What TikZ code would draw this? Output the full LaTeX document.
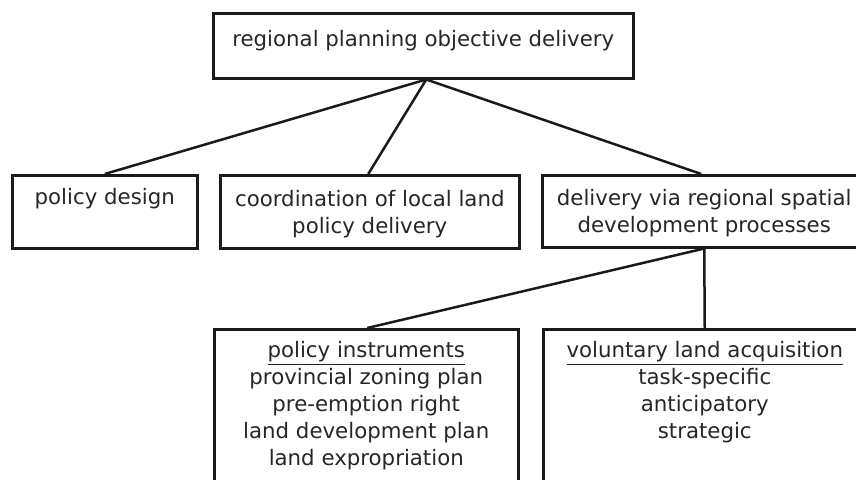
\documentclass[tikz,border=0pt]{standalone}
\usepackage{fontspec}
\setmainfont{DejaVu Sans}
\definecolor{ink}{HTML}{1A1A1A}
\definecolor{txt}{HTML}{262626}
\newcommand{\topgap}{\rule{0pt}{20pt}}
\begin{document}
\begin{tikzpicture}[x=1pt,y=-1pt,
  box/.style={draw=ink, line width=2.5pt, text=txt, align=center, inner sep=0pt,
    font=\fontsize{21.3}{27}\selectfont, anchor=north west},
  tallbox/.style={box, inner xsep=0pt, inner ysep=12.5pt},
  link/.style={draw=ink, line width=2.5pt}]
\useasboundingbox (0,0) rectangle (856,479);
\clip (0,0) rectangle (856,479);
% top
\node[box, minimum width=420pt, minimum height=65pt, text height=12pt, text depth=9.6pt]
  (top) at (212,12) {regional planning objective delivery};
% middle row
\node[box, minimum width=185pt, minimum height=73pt] (pd) at (11,174)
  {\topgap policy design\\\strut};
\node[box, minimum width=299pt, minimum height=73pt] (co) at (219,174)
  {\topgap coordination of local land\\policy delivery};
\node[box, minimum width=324pt, minimum height=72pt] (dv) at (541,174)
  {\topgap delivery via regional spatial\\development processes};
% bottom row
\node[tallbox, minimum width=304pt] (pi) at (213,328)
  {\underline{policy instruments}\\provincial zoning plan\\pre-emption right\\land development plan\\land expropriation\\\strut\\\strut};
\node[tallbox, minimum width=323pt] (va) at (542,328)
  {\underline{voluntary land acquisition}\\task-specific\\anticipatory\\strategic\\\strut\\\strut\\\strut};
% connectors
\draw[link] ([xshift=3pt]top.south) -- (pd.north);
\draw[link] ([xshift=3pt]top.south) -- ([xshift=-1.5pt]co.north);
\draw[link] ([xshift=3pt]top.south) -- ([xshift=-3pt]dv.north);
\draw[link] (dv.south) -- ([xshift=1pt]pi.north);
\draw[link] (dv.south) -- (va.north);
\end{tikzpicture}
\end{document}
